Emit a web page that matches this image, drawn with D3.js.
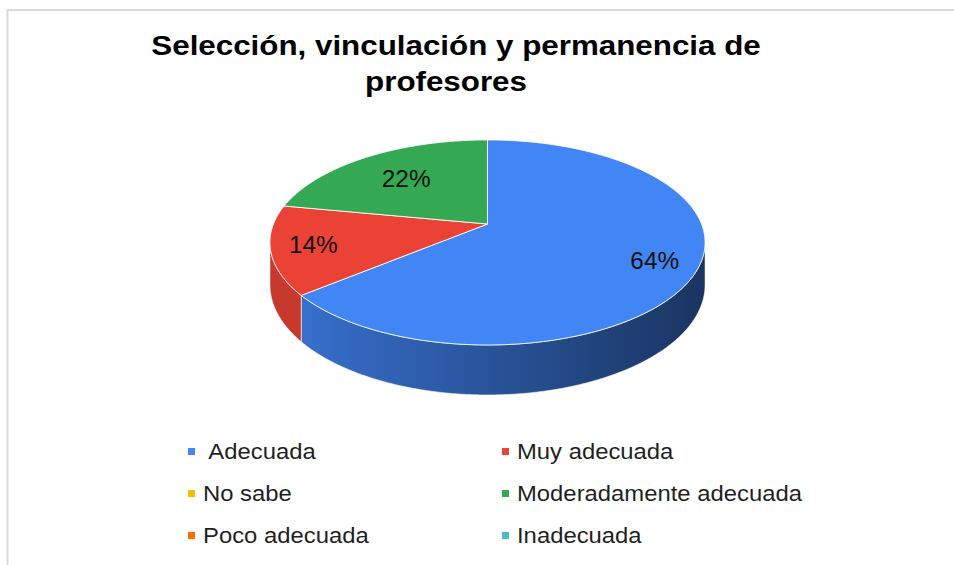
<!DOCTYPE html>
<html>
<head>
<meta charset="utf-8">
<script src="https://cdn.jsdelivr.net/npm/d3@7"></script>
<style>
	body { margin: 0; background: #fff; }
	text { font-family: Arial, "Liberation Sans", sans-serif; white-space: pre; }
</style>
</head>
<body>
<div id="chart"></div>
<script>

// data
var categories = [" Adecuada", "Muy adecuada", "No sabe", "Moderadamente adecuada", "Poco adecuada", "Inadecuada"];
var values = [64, 14, 0, 22, 0, 0];
var colors = ["#4285f4", "#ea4335", "#fbbc04", "#34a853", "#ff6d01", "#46bdc6"];
var titleLines = ["Selección, vinculación y permanencia de", "profesores"];


var width = 954, height = 565;

var svg = d3.select("#chart").append("svg")
	.attr("width", width).attr("height", height);

// light frame, only top and left edges show in the window
svg.append("rect")
	.attr("x", 7.5).attr("y", 10)
	.attr("width", 1200).attr("height", 1200)
	.attr("fill", "none")
	.attr("stroke", "#d9d9d9")
	.attr("stroke-width", 2);

// title, two lines
svg.selectAll(".title").data(titleLines).enter().append("text")
	.attr("class", "title")
	.attr("transform", function(d, i){ return "translate(" + (i == 0 ? 456 : 446) + "," + (55 + i*36) + ") scale(1.1,1)"; })
	.attr("text-anchor", "middle")
	.attr("font-size", "28.5px")
	.attr("font-weight", "bold")
	.attr("fill", "#000")
	.text(function(d){ return d; });


// 3d pie: a tilted disc seen with a bit of perspective
var cx = 487.5, cy = 224;		// where the slices meet
var rx = 214, ry = 99.2;		// half axes of the top face
var persp = 0.18;				// near side looks bigger
var depth = 41;					// thickness of the disc

function proj(theta, r, dz){
	var u = r * Math.sin(theta), v = -r * Math.cos(theta);
	var w = 1 - persp * v;
	return [cx + rx * u / w, cy + (ry * v + dz) / w];
}

function arcPoints(a0, a1, dz){
	var n = Math.max(2, Math.ceil(Math.abs(a1 - a0) / 0.01));
	return d3.range(n + 1).map(function(i){ return proj(a0 + (a1 - a0) * i / n, 1, dz); });
}

var color = d3.scaleOrdinal().domain(categories).range(colors);

var pie = d3.pie().sort(null).startAngle(0).endAngle(2 * Math.PI)
	.value(function(d){ return d.value; });

var data = categories.map(function(c, i){ return { name: c, value: values[i] }; });
var arcs = pie(data).filter(function(d){ return d.value > 0; });
var total = d3.sum(values);

var line = d3.line();

// the rim is only seen between the two silhouette points
var visFrom = Math.acos(-persp), visTo = 2 * Math.PI - Math.acos(-persp);

var defs = svg.append("defs");
arcs.forEach(function(d, i){
	var base = d3.color(color(d.data.name));
	var g = defs.append("linearGradient")
		.attr("id", "side" + i)
		.attr("gradientUnits", "userSpaceOnUse")
		.attr("x1", cx - rx).attr("x2", cx + rx).attr("y1", 0).attr("y2", 0);
	g.append("stop").attr("offset", "0%").attr("stop-color", base.darker(0.4));
	g.append("stop").attr("offset", "100%").attr("stop-color", base.darker(2.6));
});

var sides = svg.append("g");
arcs.forEach(function(d, i){
	var s = Math.max(d.startAngle, visFrom), e = Math.min(d.endAngle, visTo);
	if (e <= s) return;
	var pts = arcPoints(s, e, 0).concat(arcPoints(e, s, depth));
	var fill = d.data.name == "Muy adecuada" ? d3.color(color(d.data.name)).darker(0.45) : "url(#side" + i + ")";
	sides.append("path")
		.attr("d", line(pts) + "Z")
		.attr("fill", fill)
		.attr("stroke", "#fff")
		.attr("stroke-opacity", 0.7)
		.attr("stroke-width", 0.8);
});

var tops = svg.append("g");
tops.selectAll("path").data(arcs).enter().append("path")
	.attr("d", function(d){ return line([[cx, cy]].concat(arcPoints(d.startAngle, d.endAngle, 0))) + "Z"; })
	.attr("fill", function(d){ return color(d.data.name); })
	.attr("stroke", "#fff")
	.attr("stroke-opacity", 0.85)
	.attr("stroke-width", 1);

// percent labels, inside the top face
var labelFrac = { "Moderadamente adecuada": 0.65 };
tops.selectAll("text").data(arcs).enter().append("text")
	.attr("transform", function(d){
		var p = proj((d.startAngle + d.endAngle) / 2, labelFrac[d.data.name] || 0.81, 0);
		return "translate(" + p[0] + "," + p[1] + ") scale(1.06,1)";
	})
	.attr("text-anchor", "middle")
	.attr("dy", "0.36em")
	.attr("font-size", "23px")
	.attr("fill", "#111")
	.text(function(d){ return Math.round(d.value / total * 100) + "%"; });


// legend, two columns filled row by row
var colX = [188, 502], rowY = 459, rowStep = 42;
var legend = svg.append("g");
var items = legend.selectAll("g").data(categories).enter().append("g")
	.attr("transform", function(d, i){ return "translate(" + colX[i % 2] + "," + (rowY + Math.floor(i / 2) * rowStep) + ")"; });

items.append("rect")
	.attr("x", 0).attr("y", -11)
	.attr("width", 7).attr("height", 7)
	.attr("fill", function(d){ return color(d); });

items.append("text")
	.attr("transform", "translate(15,0) scale(1.06,1)")
	.attr("font-size", "22.5px")
	.attr("fill", "#1f1f1f")
	.text(function(d){ return d; });

</script>
</body>
</html>
